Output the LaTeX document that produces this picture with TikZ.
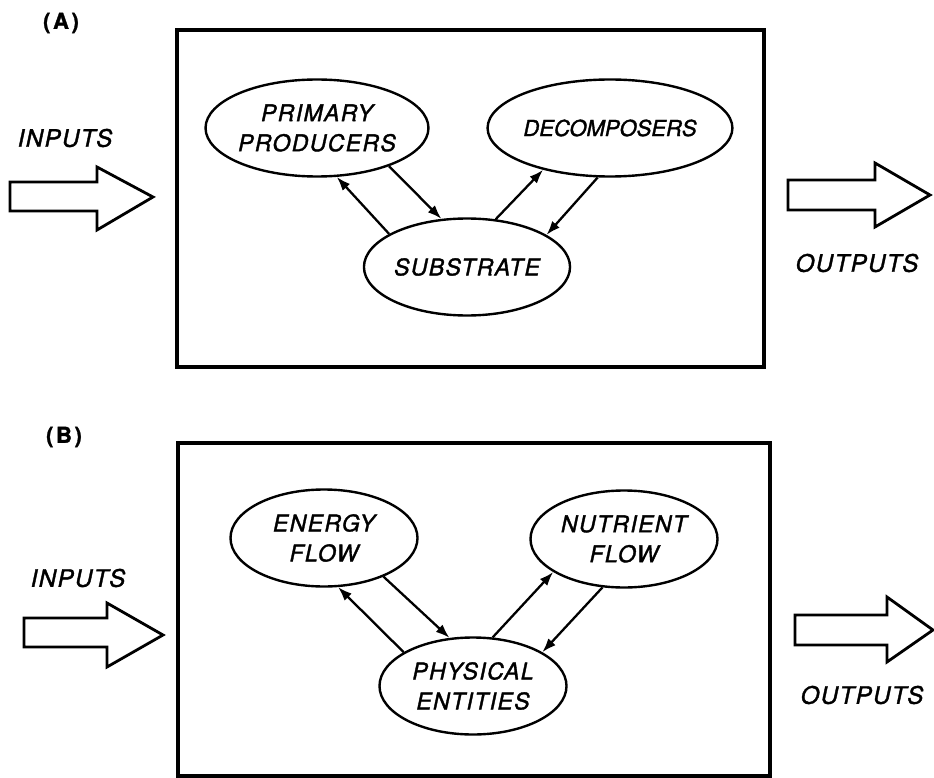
\documentclass[tikz,border=0pt]{standalone}
\usepackage{fontspec}
\setmainfont{TeX Gyre Heros}
\newfontfamily\lettering[LetterSpace=6,FakeBold=1.5]{TeX Gyre Heros}
\newfontfamily\letteringtight[LetterSpace=0,FakeBold=1.5]{TeX Gyre Heros}
\newfontfamily\labelfont[LetterSpace=12,FakeBold=1.5]{TeX Gyre Heros}
\usetikzlibrary{shapes.geometric,arrows.meta}
\tikzset{
  panelbox/.style={draw, line width=3.2pt},
  blob/.style={draw, ellipse, line width=2.4pt, inner sep=0pt, minimum width=187pt, minimum height=97pt,
    align=center, font=\lettering\itshape\fontsize{23}{30}\selectfont},
  flowarrow/.style={line width=2.3pt, -{Latex[length=14pt,width=10pt]}},
  bigarrow/.style={draw, line width=2.8pt, line join=miter},
  word/.style={font=\lettering\itshape\fontsize{24}{28}\selectfont, inner sep=0pt},
  panellabel/.style={font=\labelfont\bfseries\fontsize{22}{26}\selectfont, inner sep=0pt}
}
\begin{document}
\begin{tikzpicture}[x=1pt,y=-1pt]
\useasboundingbox (0,0) rectangle (934,778);
% ---------------- Panel A ----------------
\node[panellabel] (labA) at (61,23) {(A)};
\draw[panelbox] (177,30) rectangle (764,367);
\node[word] (inA) at (65,138) {INPUTS};
\node[word] (outA) at (857,263) {OUTPUTS};
\draw[bigarrow] (10,182) -- (97,182) -- (97,167) -- (153,197) -- (97,230) -- (97,211) -- (10,211) -- cycle;
\draw[bigarrow] (788,180) -- (875,180) -- (875,163) -- (930,195) -- (875,227) -- (875,210) -- (788,210) -- cycle;
\node[blob] (pp) at (317,128) {PRIMARY\\PRODUCERS};
\node[blob, font=\letteringtight\itshape\fontsize{22}{30}\selectfont] (dec) at (610,128) {DECOMPOSERS};
\node[blob] (sub) at (467,267) {SUBSTRATE};
\draw[flowarrow] (pp.-28) -- (sub.118);
\draw[flowarrow] (sub.157) -- (pp.-68);
\draw[flowarrow] (sub.59) -- (dec.-148);
\draw[flowarrow] (dec.-104) -- (sub.22);
% ---------------- Panel B ----------------
\node[panellabel] (labB) at (64,437) {(B)};
\draw[panelbox] (178,443) rectangle (770,776);
\node[word] (inB) at (78,578) {INPUTS};
\node[word] (outB) at (862,695) {OUTPUTS};
\draw[bigarrow] (24,618) -- (107,618) -- (107,603) -- (163,635) -- (107,667) -- (107,647) -- (24,647) -- cycle;
\draw[bigarrow] (795,615) -- (887,615) -- (887,597) -- (933,630) -- (887,662) -- (887,645) -- (795,645) -- cycle;
\node[blob] (ef) at (324,538) {ENERGY\\FLOW};
\node[blob] (nf) at (624,539) {NUTRIENT\\FLOW};
\node[blob] (pe) at (473,686) {PHYSICAL\\ENTITIES};
\draw[flowarrow] (ef.-33) -- (pe.116);
\draw[flowarrow] (pe.154) -- (ef.-74);
\draw[flowarrow] (pe.68) -- (nf.-155);
\draw[flowarrow] (nf.-114) -- (pe.26);
\end{tikzpicture}
\end{document}
